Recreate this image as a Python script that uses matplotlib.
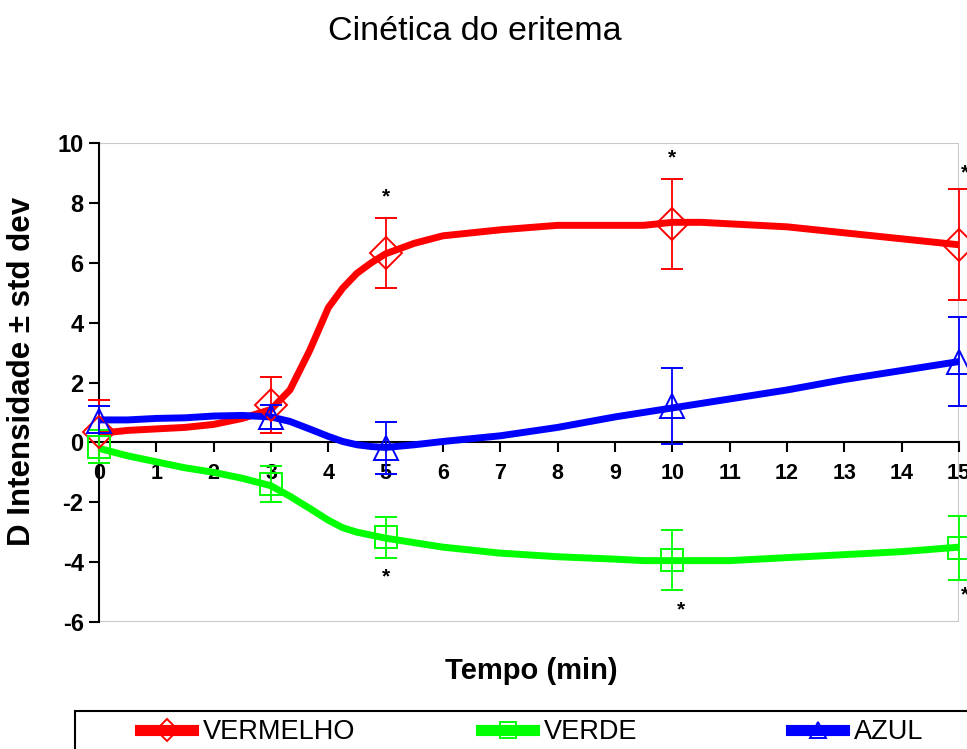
import matplotlib
matplotlib.use("Agg")
from matplotlib import pyplot as plt
from matplotlib.lines import Line2D
from matplotlib.patches import Rectangle

plt.rcParams['font.family'] = ['Liberation Sans', 'DejaVu Sans']
plt.rcParams['axes.unicode_minus'] = False

# smooth curves
curve_x = [0, 0.5, 1, 1.5, 2, 2.5, 3, 3.33, 3.67, 4, 4.25, 4.5, 4.75, 5, 5.5, 6, 7, 8, 9, 9.5, 10, 10.5, 11, 12, 13, 14, 15]
red_curve = [0.3, 0.4, 0.45, 0.5, 0.6, 0.8, 1.1, 1.75, 3.05, 4.5, 5.15, 5.65, 6.0, 6.3, 6.65, 6.9, 7.1, 7.25, 7.25, 7.25, 7.35, 7.35, 7.3, 7.2, 7.0, 6.8, 6.6]
green_curve = [-0.2, -0.45, -0.65, -0.85, -1.0, -1.2, -1.45, -1.8, -2.2, -2.6, -2.85, -3.0, -3.1, -3.2, -3.35, -3.5, -3.7, -3.82, -3.9, -3.95, -3.95, -3.95, -3.95, -3.85, -3.75, -3.65, -3.5]
blue_curve = [0.75, 0.75, 0.8, 0.82, 0.88, 0.9, 0.85, 0.7, 0.45, 0.2, 0.03, -0.08, -0.14, -0.17, -0.08, 0.03, 0.22, 0.5, 0.85, 1.0, 1.15, 1.3, 1.45, 1.75, 2.1, 2.4, 2.7]

# measured points with std dev
pt_x = [0, 3, 5, 10, 15]
red_mean = [0.35, 1.25, 6.33, 7.3, 6.6]
red_err = [1.05, 0.95, 1.17, 1.5, 1.85]
green_mean = [-0.15, -1.4, -3.17, -3.92, -3.53]
green_err = [0.55, 0.6, 0.68, 1.0, 1.07]
blue_mean = [0.7, 0.85, -0.2, 1.23, 2.7]
blue_err = [0.5, 0.4, 0.87, 1.27, 1.5]

# significance stars
star_x = [5, 10, 15.1, 5, 10.15, 15.1]
star_y = [8.2, 9.5, 9.0, -4.5, -5.6, -5.1]

names = ['VERMELHO', 'VERDE', 'AZUL']
colors = ['#ff0000', '#00ff00', '#0000ff']
markers = ['D', 's', '^']

fig = plt.figure(figsize=(9.67, 7.49), dpi=100)
ax = fig.add_axes([99/967, 1-622/749, 860/967, 479/749])

curves = [red_curve, green_curve, blue_curve]
means = [red_mean, green_mean, blue_mean]
errs = [red_err, green_err, blue_err]
msizes = [16, 16, 17]

for c, curve, m, e, mk, ms in zip(colors, curves, means, errs, markers, msizes):
    ax.plot(curve_x, curve, color=c, lw=5, solid_capstyle='butt',
            solid_joinstyle='round', zorder=3)
    ax.errorbar(pt_x, m, yerr=e, fmt=mk, ms=ms, mfc='none', mec=c, mew=1.4,
                ecolor=c, elinewidth=1.3, capsize=8, capthick=1.3, zorder=4,
                clip_on=False)

for sx, sy in zip(star_x, star_y):
    ax.text(sx, sy, '*', ha='center', va='center', fontsize=15, fontweight='bold',
            clip_on=False)

ax.set_xlim(0, 15)
ax.set_ylim(-6, 10)
ax.set_xticks(range(0, 16))
ax.set_yticks(range(-6, 11, 2))

for s in ['top', 'right']:
    ax.spines[s].set_visible(False)
ax.spines['bottom'].set_position(('data', 0))
ax.spines['bottom'].set_linewidth(1.5)
ax.spines['left'].set_linewidth(1.5)
ax.add_patch(Rectangle((0, 0), 1, 1, transform=ax.transAxes, fill=False,
                       ec='#c8c8c8', lw=1.5, zorder=0))
ax.tick_params(axis='x', direction='out', length=7, width=1.5, labelsize=15.5, pad=8)
ax.tick_params(axis='y', direction='out', length=7, width=1.5, labelsize=17, pad=4)
for lab in ax.get_xticklabels() + ax.get_yticklabels():
    lab.set_fontweight('bold')

fig.text(475/967, 1-31/749, 'Cinética do eritema', ha='center', va='center', fontsize=24.5)
fig.text(22/967, 1-371/749, 'D Intensidade ± std dev', rotation=90, ha='center',
         va='center', fontsize=22.5, fontweight='bold')
fig.text(531/967, 1-671/749, 'Tempo (min)', ha='center', va='center', fontsize=21,
         fontweight='bold')

# legend box runs past the bottom/right edge like the original
fig.add_artist(Rectangle((75/967, -0.1), 1.0, 0.1 + 1-711/749,
                         transform=fig.transFigure, fill=False, ec='black', lw=1.5))
leg_x = [139, 480, 790]
for name, c, mk, lx in zip(names, colors, markers, leg_x):
    h = Line2D([], [], color=c, lw=8, marker=mk, ms=11, mfc='none', mec=c, mew=1.4)
    fig.legend([h], [name], loc='upper left', bbox_to_anchor=((lx - 4)/967, 1-714/749),
               frameon=False, fontsize=19.5, handlelength=1.95, handletextpad=0.35,
               borderaxespad=0, borderpad=0.2)

fig.savefig('out.png', dpi=100)
